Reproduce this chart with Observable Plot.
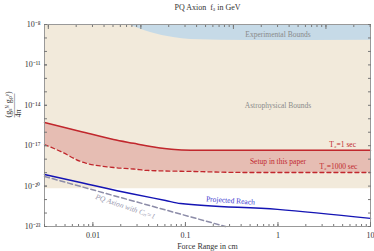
<!DOCTYPE html>
<html><head><meta charset="utf-8">
<script src="https://cdn.jsdelivr.net/npm/d3@7"></script>
<script src="https://cdn.jsdelivr.net/npm/@observablehq/plot@0.6"></script>
<style>body{margin:0;background:#fff}</style>
</head><body><div id="chart"></div>
<script>
// ---- data ----
const xDomain = [0.003, 10];
const yDomain = [1e-23, 1e-8];

const astroX = [0.003, 10];
const astroLow = [6.3e-21, 6.3e-21];
const astroHigh = [1e-8, 1e-8];

const expX = [0.0243, 0.042, 0.0744, 0.114, 0.5, 10];
const expLow = [1e-8, 2.6e-9, 1.07e-9, 7.8e-10, 6.5e-10, 6.8e-10];

const setupX = [0.003, 0.0047, 0.00735, 0.0167, 0.0275, 0.039, 0.114, 0.506, 10];
const t2OneSec = [5.25e-16, 2.45e-16, 1.15e-16, 2.9e-17, 1.5e-17, 9.5e-18, 4.5e-18, 4.5e-18, 4.5e-18];
const t2ThousandSec = [1.23e-17, 3.2e-18, 6.8e-19, 2.4e-19, 1.86e-19, 1.45e-19, 1.23e-19, 1.02e-19, 1.02e-19];

const reachX = [0.003, 0.00735, 0.0255, 0.061, 0.0886, 0.99, 10];
const reachY = [7.2e-20, 1.86e-20, 2.8e-21, 8.5e-22, 5.1e-22, 1.86e-22, 4.0e-23];

const pqX = [0.003, 0.27];
const pqY = [5.2e-20, 1e-23];

const bottomTicks = [0.01, 0.1, 1, 10];
const bottomTickLabels = ["0.01", "0.1", "1", "10"];
const topTicks = [0.0033, 0.033, 0.33, 3.3];
const topTickLabels = ["10\u2079", "10\u00b9\u2070", "10\u00b9\u00b9", "10\u00b9\u00b2"];
const yTicks = [1e-23, 1e-20, 1e-17, 1e-14, 1e-11, 1e-8];
const yTickLabels = ["10\u207b\u00b2\u00b3", "10\u207b\u00b2\u2070", "10\u207b\u00b9\u2077", "10\u207b\u00b9\u2074", "10\u207b\u00b9\u00b9", "10\u207b\u2078"];

// ---- tables ----
const astro = astroX.map((x, i) => ({x, lo: astroLow[i], hi: astroHigh[i]}));
const exp = expX.map((x, i) => ({x, lo: expLow[i], hi: 1e-8}));
const setup = setupX.map((x, i) => ({x, a: t2OneSec[i], b: t2ThousandSec[i]}));
const reach = reachX.map((x, i) => ({x, y: reachY[i]}));
const pq = pqX.map((x, i) => ({x, y: pqY[i]}));

const xMinor = d3.scaleLog().domain(xDomain).ticks();
const topMinor = d3.scaleLog().domain([1e9, 3e12]).ticks().map(f => f * topTicks[0] / 1e9).filter(v => v >= xDomain[0] && v <= xDomain[1]);
const yMinor = d3.range(-23, -7).map(e => Math.pow(10, e));

const curve = "monotone-x";
const tickCol = "#777";

const plot = Plot.plot({
  width: 374, height: 251,
  marginLeft: 44, marginRight: 4, marginTop: 24, marginBottom: 25,
  style: {fontFamily: "'Liberation Serif', serif", fontSize: "8px", background: "#fff", color: "#333"},
  x: {type: "log", domain: xDomain},
  y: {type: "log", domain: yDomain},
  marks: [
    Plot.areaY(astro, {x: "x", y1: "lo", y2: "hi", fill: "#F2EADB"}),
    Plot.areaY(exp, {x: "x", y1: "lo", y2: "hi", fill: "#C6DAE7", curve}),
    Plot.areaY(setup, {x: "x", y1: "b", y2: "a", fill: "#E6BDB3", curve}),
    Plot.line(setup, {x: "x", y: "a", stroke: "#C1272D", strokeWidth: 1.5, curve}),
    Plot.line(setup, {x: "x", y: "b", stroke: "#C1272D", strokeWidth: 1.3, strokeDasharray: "4,3", curve}),
    Plot.line(pq, {x: "x", y: "y", stroke: "#8C8CA8", strokeWidth: 1.5, strokeDasharray: "5,3"}),
    Plot.line(reach, {x: "x", y: "y", stroke: "#1414B4", strokeWidth: 1.4, curve}),
    Plot.text(["Experimental Bounds"], {x: 1, y: 1.8e-9, fill: "#8a8a8a", fontSize: 7.5}),
    Plot.text(["Astrophysical Bounds"], {x: 1, y: 1e-14, fill: "#8a8a8a", fontSize: 7.5}),
    Plot.text(["T\u2082=1 sec"], {x: 5, y: 1.2e-17, fill: "#C1272D", fontSize: 7.5}),
    Plot.text(["Setup in this paper"], {x: 1, y: 7e-19, fill: "#C1272D", fontSize: 7.5}),
    Plot.text(["T\u2082=1000 sec"], {x: 4.5, y: 2.9e-19, fill: "#C1272D", fontSize: 7.5}),
    Plot.text(["Projected Reach"], {x: 0.307, y: 8.5e-22, fill: "#3a3ad0", fontSize: 7.5, rotate: 4}),
    Plot.text(["PQ Axion with C\u2099=1"], {x: 0.0225, y: 3.0e-22, fill: "#9a9ab0", fontSize: 7.5, fontStyle: "italic", rotate: 19}),
    Plot.frame({stroke: "#999"}),
    Plot.axisX(xMinor, {anchor: "bottom", tickSize: -2, tickFormat: () => "", stroke: tickCol, label: null}),
    Plot.axisX(bottomTicks, {anchor: "bottom", tickSize: -4, tickPadding: 10, tickFormat: d => bottomTickLabels[bottomTicks.indexOf(d)], stroke: tickCol, label: "Force Range in cm", labelAnchor: "center", labelArrow: "none", labelOffset: 22}),
    Plot.axisX(topMinor, {anchor: "top", tickSize: -2, tickFormat: () => "", stroke: tickCol, label: null}),
    Plot.axisX(topTicks, {anchor: "top", tickSize: -4, tickPadding: 9, tickFormat: d => topTickLabels[topTicks.indexOf(d)], stroke: tickCol, label: "PQ Axion  f\u2090 in GeV", labelAnchor: "center", labelArrow: "none", labelOffset: 20}),
    Plot.axisY(yMinor, {anchor: "left", tickSize: -3, tickFormat: () => "", stroke: tickCol, label: null}),
    Plot.axisY(yTicks, {anchor: "left", tickSize: -3, tickPadding: 7, tickFormat: d => yTickLabels[yTicks.indexOf(d)], stroke: tickCol, label: null}),
    Plot.axisY(yMinor, {anchor: "right", tickSize: -3, tickFormat: () => "", stroke: tickCol, label: null}),
    Plot.text(["(g\u209b\u1d3a g\u209a\u1d49)"], {frameAnchor: "left", dx: -36, dy: -8, rotate: -90, fill: "#333", fontSize: 8}),
    Plot.text(["4\u03c0"], {frameAnchor: "left", dx: -26, dy: -8, rotate: -90, fill: "#333", fontSize: 8}),
    Plot.text(["\u2014\u2014\u2014"], {frameAnchor: "left", dx: -31, dy: -8, rotate: -90, fill: "#333", fontSize: 8})
  ]
});
document.getElementById("chart").appendChild(plot);
</script>
</body></html>
